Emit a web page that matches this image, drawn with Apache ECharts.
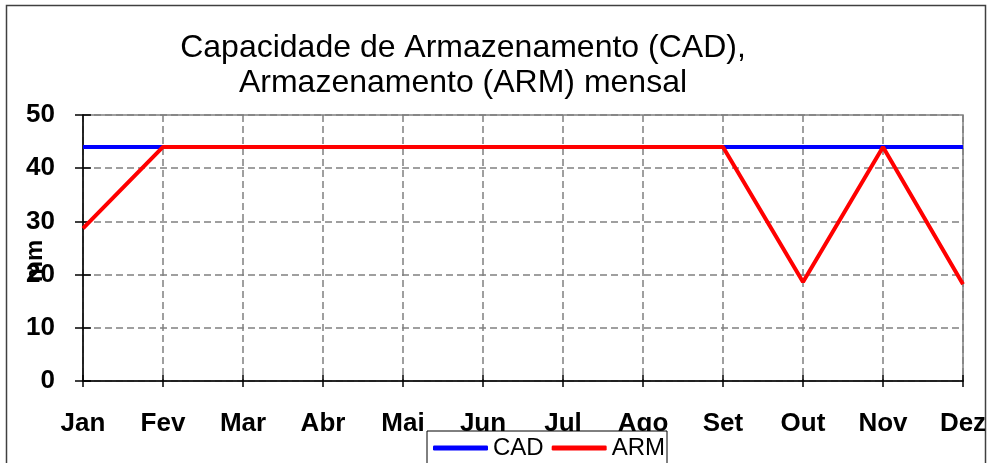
<!DOCTYPE html>
<html>
<head>
<meta charset="utf-8">
<script src="https://cdn.jsdelivr.net/npm/echarts@6/dist/echarts.min.js"></script>
<style>
  html, body { margin: 0; padding: 0; background: #fff; }
  #chart { width: 990px; height: 463px; }
</style>
</head>
<body>
<div id="chart"></div>
<script>
// Monthly soil water storage capacity (CAD) and storage (ARM), mm
const months = ['Jan', 'Fev', 'Mar', 'Abr', 'Mai', 'Jun', 'Jul', 'Ago', 'Set', 'Out', 'Nov', 'Dez'];
const cad = [44, 44, 44, 44, 44, 44, 44, 44, 44, 44, 44, 44];
const arm = [28.7, 44, 44, 44, 44, 44, 44, 44, 44, 18.6, 44, 18.2];

const chart = echarts.init(document.getElementById('chart'));
const font = '"Liberation Sans", Arial, sans-serif';
const dash = { color: '#808080', type: [7, 4], width: 1.5 };

chart.setOption({
  animation: false,
  backgroundColor: '#fff',
  textStyle: { fontFamily: font },
  title: {
    text: 'Capacidade de Armazenamento (CAD),\nArmazenamento (ARM) mensal',
    left: 458,
    textAlign: 'center',
    top: 26,
    textStyle: { fontSize: 32, fontWeight: 'normal', color: '#000', lineHeight: 35, fontFamily: font }
  },
  graphic: [{
    type: 'rect',
    shape: { x: 6.5, y: 5.5, width: 979, height: 470 },
    style: { fill: 'none', stroke: '#404040', lineWidth: 1.5 },
    z: 0
  }, {
    type: 'text',
    x: 35,
    y: 261,
    rotation: Math.PI / 2,
    style: {
      text: 'mm', fill: '#000', font: 'bold 24px ' + font,
      align: 'center', verticalAlign: 'middle'
    },
    z: 10
  }],
  legend: {
    data: ['CAD', 'ARM'],
    left: 427,
    top: 431,
    z: 10,
    itemWidth: 55,
    itemHeight: 5,
    itemGap: 8,
    padding: [5, 2, 6, 6],
    borderColor: '#000',
    borderWidth: 1,
    backgroundColor: '#fff',
    icon: 'roundRect',
    textStyle: { fontSize: 24, color: '#000' }
  },
  grid: {
    left: 83, right: 27, top: 115, bottom: 82,
    show: true, borderColor: '#808080', borderWidth: 1.5, backgroundColor: 'transparent'
  },
  xAxis: [{
    type: 'category',
    data: months,
    boundaryGap: false,
    axisLine: { lineStyle: { color: '#000', width: 1.5 } },
    axisTick: { length: 6, lineStyle: { color: '#000', width: 1.5 } },
    axisLabel: { fontSize: 26, fontWeight: 'bold', color: '#000', margin: 30 },
    splitLine: { show: true, lineStyle: dash }
  }, {
    // inner half of the crossing tick marks
    type: 'category',
    data: months,
    boundaryGap: false,
    position: 'bottom',
    axisLine: { show: false },
    axisTick: { inside: true, length: 6, lineStyle: { color: '#000', width: 1.5 } },
    axisLabel: { show: false },
    splitLine: { show: false }
  }],
  yAxis: [{
    type: 'value',
    min: 0, max: 50, interval: 10,
    axisLine: { show: true, lineStyle: { color: '#000', width: 1.5 } },
    axisTick: { show: true, length: 8, lineStyle: { color: '#000', width: 1.5 } },
    axisLabel: { fontSize: 26, fontWeight: 'bold', color: '#000', margin: 28 },
    splitLine: { show: true, lineStyle: dash }
  }, {
    type: 'value',
    min: 0, max: 50, interval: 10,
    position: 'left',
    axisLine: { show: false },
    axisTick: { show: true, inside: true, length: 8, lineStyle: { color: '#000', width: 1.5 } },
    axisLabel: { show: false },
    splitLine: { show: false }
  }],
  series: [{
    name: 'CAD',
    type: 'line',
    data: cad,
    symbol: 'none',
    lineStyle: { color: '#0000ff', width: 4 },
    itemStyle: { color: '#0000ff' },
    z: 2
  }, {
    name: 'ARM',
    type: 'line',
    data: arm,
    symbol: 'none',
    lineStyle: { color: '#ff0000', width: 4 },
    itemStyle: { color: '#ff0000' },
    z: 3
  }]
});
</script>
</body>
</html>
